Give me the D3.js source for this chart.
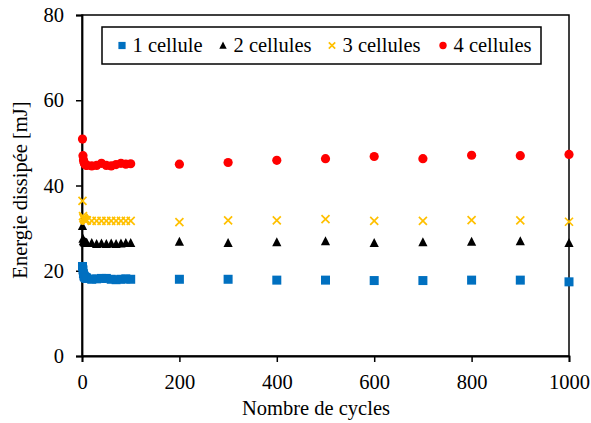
<!DOCTYPE html>
<html><head><meta charset="utf-8">
<script src="https://cdn.jsdelivr.net/npm/d3@7"></script>
<style>body{margin:0;background:#fff}svg{display:block}</style>
</head><body>
<svg id="c" width="591" height="423"></svg>
<script>
const cycles = [1,2,3,4,5,6,7,8,9,10,20,30,40,50,60,70,80,90,100,200,300,400,500,600,700,800,900,1000];
const cell1 = [21.0,20.2,19.3,18.8,18.6,18.5,18.4,18.3,18.3,18.2,18.0,18.1,18.2,18.2,18.0,17.9,18.0,18.1,18.0,18.0,18.0,17.8,17.8,17.7,17.7,17.8,17.8,17.4];
const cell2 = [30.5,27.5,27.0,26.8,26.7,26.6,26.6,26.6,26.5,26.5,26.5,26.3,26.4,26.3,26.4,26.3,26.4,26.5,26.5,26.8,26.5,26.7,26.9,26.5,26.7,26.8,26.9,26.5];
const cell3 = [36.4,32.8,32.4,32.2,32.0,31.9,31.9,31.8,31.8,31.8,31.7,31.7,31.7,31.7,31.7,31.7,31.7,31.7,31.7,31.4,31.8,31.8,32.1,31.7,31.7,31.9,31.8,31.5];
const cell4 = [50.9,47.0,46.0,45.5,45.2,45.0,44.9,44.8,44.8,44.7,44.6,44.7,45.2,44.7,44.6,44.9,45.2,45.0,45.1,45.0,45.4,45.9,46.3,46.8,46.3,47.1,47.0,47.3];
const seriesNames = ["1 cellule","2 cellules","3 cellules","4 cellules"];
const xTicks = [0,200,400,600,800,1000];
const yTicks = [0,20,40,60,80];

const svg = d3.select("#c");
const font = "\"Liberation Serif\", \"Times New Roman\", serif";
const fs = "20.5px";
const m = {l:82, r:569, t:15, b:356};
const x = d3.scaleLinear().domain([0,1000]).range([m.l, m.r]);
const y = d3.scaleLinear().domain([0,80]).range([m.b, m.t]);

svg.append("rect").attr("x",m.l).attr("y",m.t).attr("width",m.r-m.l).attr("height",m.b-m.t)
  .attr("fill","none").attr("stroke","#000").attr("stroke-width",1.5);

const gx = svg.append("g").attr("transform",`translate(0,${m.b})`)
  .call(d3.axisBottom(x).tickValues(xTicks).tickSize(6).tickPadding(12).tickFormat(d3.format("d")));
const gy = svg.append("g").attr("transform",`translate(${m.l},0)`)
  .call(d3.axisLeft(y).tickValues(yTicks).tickSize(6).tickPadding(12).tickFormat(d3.format("d")));
[gx,gy].forEach(g=>{
  g.select(".domain").attr("stroke","#000").attr("stroke-width",1.8);
  g.selectAll(".tick line").attr("stroke","#000").attr("stroke-width",1.5);
  g.selectAll(".tick text").style("font-family",font).style("font-size",fs).attr("fill","#000");
});

svg.append("text").attr("x",316).attr("y",415).attr("text-anchor","middle")
  .style("font-family",font).style("font-size",fs).text("Nombre de cycles");
svg.append("text").attr("transform",`translate(27,190) rotate(-90)`).attr("text-anchor","middle")
  .style("font-family",font).style("font-size",fs).text("Energie dissipée [mJ]");

const data = [cell1,cell2,cell3,cell4];
const colors = ["#0070C0","#000000","#FFC000","#FF0000"];
function marker(g, i, cx, cy, s){
  if(i===0) g.append("rect").attr("x",cx-s*4.5).attr("y",cy-s*4.5).attr("width",s*9).attr("height",s*9).attr("fill",colors[0]);
  else if(i===1) g.append("path").attr("d",`M${cx},${cy-s*5}L${cx+s*4.6},${cy+s*4}L${cx-s*4.6},${cy+s*4}Z`).attr("fill",colors[1]);
  else if(i===2) g.append("path").attr("d",`M${cx-s*4},${cy-s*4}L${cx+s*4},${cy+s*4}M${cx-s*4},${cy+s*4}L${cx+s*4},${cy-s*4}`).attr("stroke",colors[2]).attr("stroke-width",1.7).attr("fill","none");
  else g.append("circle").attr("cx",cx).attr("cy",cy).attr("r",s*4.6).attr("fill",colors[3]);
}
const plot = svg.append("g");
data.forEach((vals,i)=>{
  const g = plot.append("g");
  vals.forEach((v,j)=>marker(g,i,x(cycles[j]),y(v),1));
});

const lg = svg.append("g");
lg.append("rect").attr("x",102).attr("y",27).attr("width",439).attr("height",37)
  .attr("fill","#fff").attr("stroke","#000").attr("stroke-width",1.5);
const lx = [122,223,332,443];
seriesNames.forEach((n,i)=>{
  marker(lg,i,lx[i],45.5,0.8);
  lg.append("text").attr("x",lx[i]+10.5).attr("y",51.5).style("font-family",font).style("font-size",fs).text(n);
});
</script>
</body></html>
